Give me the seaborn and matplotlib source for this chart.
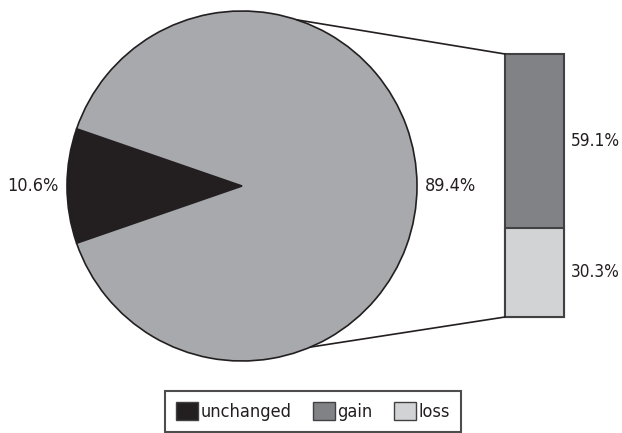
import matplotlib
matplotlib.use("Agg")
import matplotlib.pyplot as plt
from matplotlib.patches import ConnectionPatch, Patch
import numpy as np
import pandas as pd
import seaborn as sns

# Share of cases in the pie, and the breakdown of the "changed" share
pie_labels = ["unchanged", "changed"]
pie_values = [10.6, 89.4]
bar_labels = ["gain", "loss"]
bar_values = [59.1, 30.3]

c_unchanged = "#231f20"
c_changed = "#a7a9ac"
c_gain = "#808285"
c_loss = "#d1d3d4"
c_edge = "#231f20"

sns.set_style("white")
plt.rcParams["font.family"] = ["DejaVu Sans"]
plt.rcParams["font.stretch"] = "condensed"
fs = 13
fs_bar = 12.3

fig = plt.figure(figsize=(6.22, 4.33), dpi=100)
W, H = 622, 433

# Pie axes: circle centred at (242,186) px with radius 175 px
cx, cy, r = 242, 186, 175
ax_pie = fig.add_axes([(cx - r) / W, 1 - (cy + r) / H, 2 * r / W, 2 * r / H])
half = pie_values[0] / 100 * 360 / 2
ax_pie.pie(pie_values, colors=[c_unchanged, c_changed], startangle=180 - half,
           counterclock=True, radius=1,
           wedgeprops=dict(edgecolor=c_edge, linewidth=1.2))
ax_pie.set_xlim(-1, 1)
ax_pie.set_ylim(-1, 1)
ax_pie.axis("off")
ax_pie.text(-1.05, 0, f"{pie_values[0]}%", ha="right", va="center", fontsize=fs,
            color="#231f20", clip_on=False)
ax_pie.text(1.045, 0, f"{pie_values[1]}%", ha="left", va="center", fontsize=fs,
            color="#231f20", clip_on=False)

# Stacked bar for the breakdown of the changed share
total = sum(bar_values)
bx0, bx1, by0, by1 = 505, 564, 54, 317
ax_bar = fig.add_axes([bx0 / W, 1 - by1 / H, (bx1 - bx0) / W, (by1 - by0) / H])
df = pd.DataFrame({"group": ["changed"], "total": [total], "loss": [bar_values[1]]})
sns.barplot(data=df, x="group", y="total", color=c_gain, width=1, saturation=1,
            edgecolor="#414042", linewidth=1.5, ax=ax_bar)
sns.barplot(data=df, x="group", y="loss", color=c_loss, width=1, saturation=1,
            edgecolor="#414042", linewidth=1.5, ax=ax_bar)
ax_bar.set_xlim(-0.5, 0.5)
ax_bar.set_ylim(0, total)
ax_bar.axis("off")
for p in ax_bar.patches:
    p.set_clip_on(False)
ax_bar.text(0.62, bar_values[1] + bar_values[0] / 2, f"{bar_values[0]}%", ha="left",
            va="center", fontsize=fs_bar, color="#231f20", clip_on=False)
ax_bar.text(0.62, bar_values[1] / 2, f"{bar_values[1]}%", ha="left",
            va="center", fontsize=fs_bar, color="#231f20", clip_on=False)

# Lines linking the pie to the bar
for ang, yb in [(71.7, total), (-67.0, 0)]:
    t = np.deg2rad(ang)
    con = ConnectionPatch(xyA=(np.cos(t), np.sin(t)), coordsA=ax_pie.transData,
                          xyB=(-0.5, yb), coordsB=ax_bar.transData,
                          color=c_edge, linewidth=1.2)
    fig.add_artist(con)

handles = [Patch(facecolor=c_unchanged, edgecolor="#414042", linewidth=1),
           Patch(facecolor=c_gain, edgecolor="#414042", linewidth=1),
           Patch(facecolor=c_loss, edgecolor="#414042", linewidth=1)]
leg = fig.legend(handles, ["unchanged", "gain", "loss"], ncol=3,
                 loc="upper left", bbox_to_anchor=(165 / W, 1 - 391 / H),
                 fontsize=fs, frameon=True, fancybox=False,
                 handlelength=1.2, handleheight=1.2, handletextpad=0.15,
                 columnspacing=1.2, borderpad=0.6, borderaxespad=0)
leg.get_frame().set_edgecolor("#231f20")
leg.get_frame().set_linewidth(1.5)
for t in leg.get_texts():
    t.set_color("#231f20")

fig.savefig("out.png", dpi=100)
